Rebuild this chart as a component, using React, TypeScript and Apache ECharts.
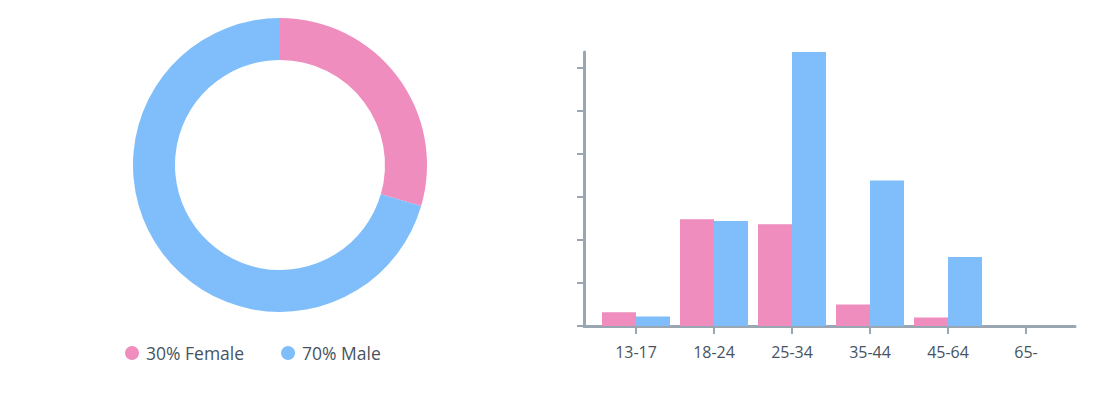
import React, { useEffect, useRef } from "react";
import * as echarts from "echarts";

const ageGroups = ["13-17", "18-24", "25-34", "35-44", "45-64", "65-"];
const femaleShare = [1.6, 12.4, 11.8, 2.5, 1.0, 0];
const maleShare = [1.1, 12.2, 31.8, 16.9, 8.0, 0];
const genderNames = ["Female", "Male"];
const legendLabels = ["30% Female", "70% Male"];
const yTickValues = [0, 5, 10, 15, 20, 25, 30];

const PINK = "#ef8dbe";
const BLUE = "#7fbefa";
const AXIS = "#9aa6b1";
const TEXT = "#47545f";
const FONT = "'Open Sans', sans-serif";

export default function App() {
  const ref = useRef<HTMLDivElement>(null);
  useEffect(() => {
    document.body.style.margin = "0";
    if (!ref.current) return;
    const chart = echarts.init(ref.current, undefined, { renderer: "svg" });
    const sum = (a: number[]) => a.reduce((s, v) => s + v, 0);
    const yMax = Math.max(...femaleShare, ...maleShare);
    chart.setOption({
      animation: false,
      textStyle: { fontFamily: FONT },
      legend: {
        data: genderNames,
        left: 120,
        top: 339,
        icon: "circle",
        itemWidth: 14,
        itemHeight: 14,
        itemGap: 37,
        formatter: (name: string) => legendLabels[genderNames.indexOf(name)],
        textStyle: {
          fontSize: 17.5,
          color: TEXT,
          fontFamily: FONT,
          padding: [0, 0, 0, 2],
        },
      },
      grid: [
        { left: 584, top: 52, width: 491, height: 274 },
        { left: 597, top: 52, width: 468, height: 274 },
      ],
      xAxis: [
        {
          gridIndex: 0,
          type: "value",
          min: 0,
          max: 1,
          axisLine: { show: true, lineStyle: { color: AXIS, width: 3 } },
          axisTick: { show: false },
          axisLabel: { show: false },
          splitLine: { show: false },
        },
        {
          gridIndex: 1,
          type: "category",
          data: ageGroups,
          axisLine: { show: false },
          axisTick: {
            show: true,
            alignWithLabel: true,
            length: 8,
            lineStyle: { color: AXIS, width: 2 },
          },
          axisLabel: { color: TEXT, fontSize: 16, margin: 18, fontFamily: FONT },
        },
      ],
      yAxis: [
        {
          gridIndex: 0,
          type: "value",
          min: 0,
          max: yMax,
          interval: 5,
          axisLine: { show: true, lineStyle: { color: AXIS, width: 3 } },
          axisTick: {
            show: true,
            length: 7,
            customValues: yTickValues,
            lineStyle: { color: AXIS, width: 2 },
          },
          axisLabel: { show: false },
          splitLine: { show: false },
        },
        {
          gridIndex: 1,
          type: "value",
          min: 0,
          max: yMax,
          interval: 5,
          show: false,
          splitLine: { show: false },
        },
      ],
      series: [
        {
          type: "pie",
          center: [280, 165],
          radius: [105, 147],
          startAngle: 90,
          clockwise: true,
          label: { show: false },
          labelLine: { show: false },
          emphasis: { disabled: true },
          data: [
            { name: genderNames[0], value: sum(femaleShare), itemStyle: { color: PINK } },
            { name: genderNames[1], value: sum(maleShare), itemStyle: { color: BLUE } },
          ],
        },
        {
          type: "bar",
          name: "Female bars",
          xAxisIndex: 1,
          yAxisIndex: 1,
          data: femaleShare,
          barWidth: 34,
          barGap: "0%",
          itemStyle: { color: PINK },
        },
        {
          type: "bar",
          name: "Male bars",
          xAxisIndex: 1,
          yAxisIndex: 1,
          data: maleShare,
          barWidth: 34,
          barGap: "0%",
          itemStyle: { color: BLUE },
        },
      ],
    });
    return () => chart.dispose();
  }, []);
  return <div ref={ref} style={{ width: 1118, height: 418 }} />;
}
